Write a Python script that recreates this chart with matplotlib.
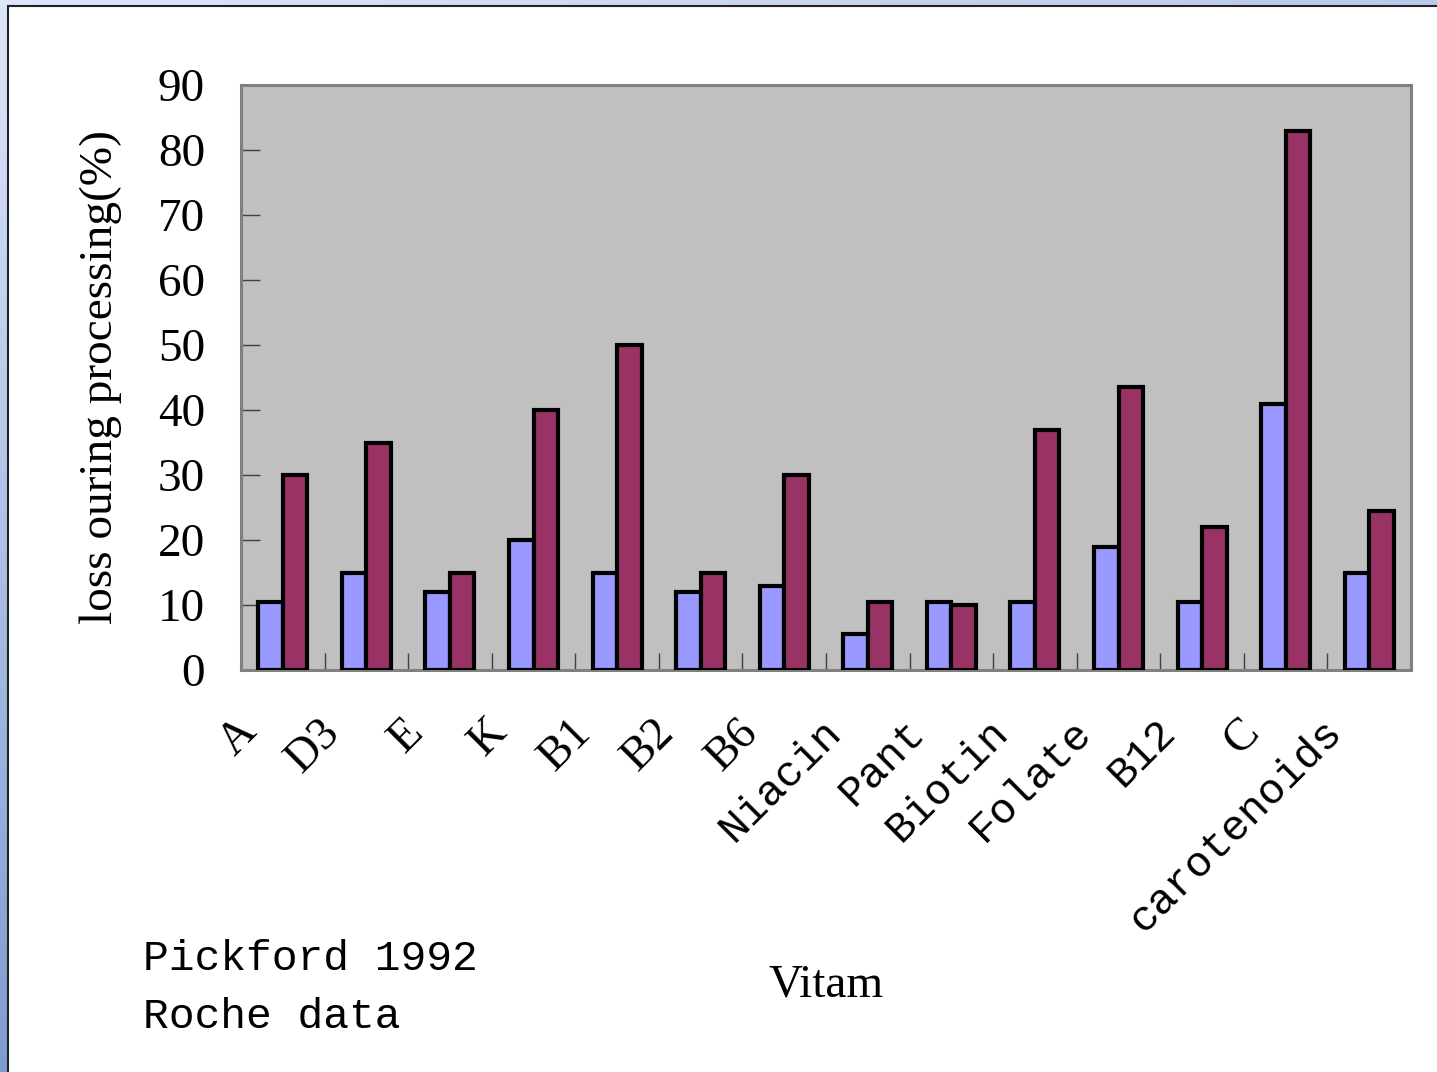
import numpy as np
import matplotlib.pyplot as plt
from matplotlib.patches import Rectangle
from matplotlib.transforms import ScaledTranslation

# data
vitamins = ['A', 'D3', 'E', 'K', 'B1', 'B2', 'B6', 'Niacin', 'Pant', 'Biotin',
            'Folate', 'B12', 'C', 'carotenoids']
loss_low = [10.5, 15, 12, 20, 15, 12, 13, 5.5, 10.5, 10.5, 19, 10.5, 41, 15]
loss_high = [30, 35, 15, 40, 50, 15, 30, 10.5, 10, 37, 43.5, 22, 83, 24.5]
y_ticks = [0, 10, 20, 30, 40, 50, 60, 70, 80, 90]

SERIF = 'Liberation Serif'
MONO = 'Liberation Mono'
label_fonts = [SERIF] * 7 + [MONO] * 5 + [SERIF, MONO]

W, H = 1437, 1072
fig = plt.figure(figsize=(W / 100, H / 100), dpi=100)

# blue slide background + white panel
bg = fig.add_axes([0, 0, 1, 1], zorder=-5)
xx, yy = np.meshgrid(np.linspace(0, 1, 200), np.linspace(0, 1, 200))
t = np.clip(0.35 * xx + 0.9 * yy, 0, 1)
light = np.array([0.87, 0.90, 0.98])
dark = np.array([0.45, 0.58, 0.80])
img = light[None, None, :] * (1 - t[..., None]) + dark[None, None, :] * t[..., None]
bg.imshow(img, extent=[0, 1, 0, 1], aspect='auto', origin='upper')
bg.add_patch(Rectangle((8 / W, -0.01), 1.0, 1 - 6 / H + 0.01, transform=bg.transAxes,
                       facecolor='white', edgecolor='#222222', linewidth=1.5))
bg.set_xlim(0, 1)
bg.set_ylim(0, 1)
bg.axis('off')

ax = fig.add_axes([241 / W, 1 - 670 / H, 1170 / W, 585 / H])
ax.set_facecolor('#C0C0C0')

x = np.arange(len(vitamins))
bw = 0.293
ax.bar(x - bw / 2, loss_low, width=bw, color='#9999FF', edgecolor='black', linewidth=3, zorder=3)
ax.bar(x + bw / 2, loss_high, width=bw, color='#993366', edgecolor='black', linewidth=3, zorder=3)

ax.set_xlim(-0.5, len(vitamins) - 0.5)
ax.set_ylim(0, 90)

for s in ax.spines.values():
    s.set_color('#808080')
    s.set_linewidth(2.2)

ax.set_yticks(y_ticks)
ax.set_yticklabels([str(v) for v in y_ticks], fontfamily=SERIF, fontsize=34)
ax.tick_params(axis='y', direction='in', length=14, width=1, color='#404040', pad=26)
ax.set_xticks(np.arange(0.5, len(vitamins) - 0.5, 1.0))
ax.set_xticklabels([])
ax.tick_params(axis='x', direction='in', length=12, width=1, color='#404040')

off = ScaledTranslation(-33 / 100, -56 / 100, fig.dpi_scale_trans)
for i, name in enumerate(vitamins):
    ax.text(x[i], 0, name, transform=ax.get_xaxis_transform() + off,
            rotation=45, rotation_mode='anchor', ha='right', va='center',
            fontsize=33 if label_fonts[i] == SERIF else 31, fontfamily=label_fonts[i])

ax.set_ylabel('loss ouring processing(%)', fontfamily=SERIF, fontsize=34, labelpad=26)

fig.text(826 / W, 1 - 985 / H, 'Vitam', fontfamily=SERIF, fontsize=34, ha='center', va='center')
fig.text(143 / W, 1 - 988 / H, 'Pickford 1992\nRoche data', fontfamily=MONO, fontsize=31,
         ha='left', va='center', linespacing=1.55)

fig.savefig('out.png', dpi=100)
